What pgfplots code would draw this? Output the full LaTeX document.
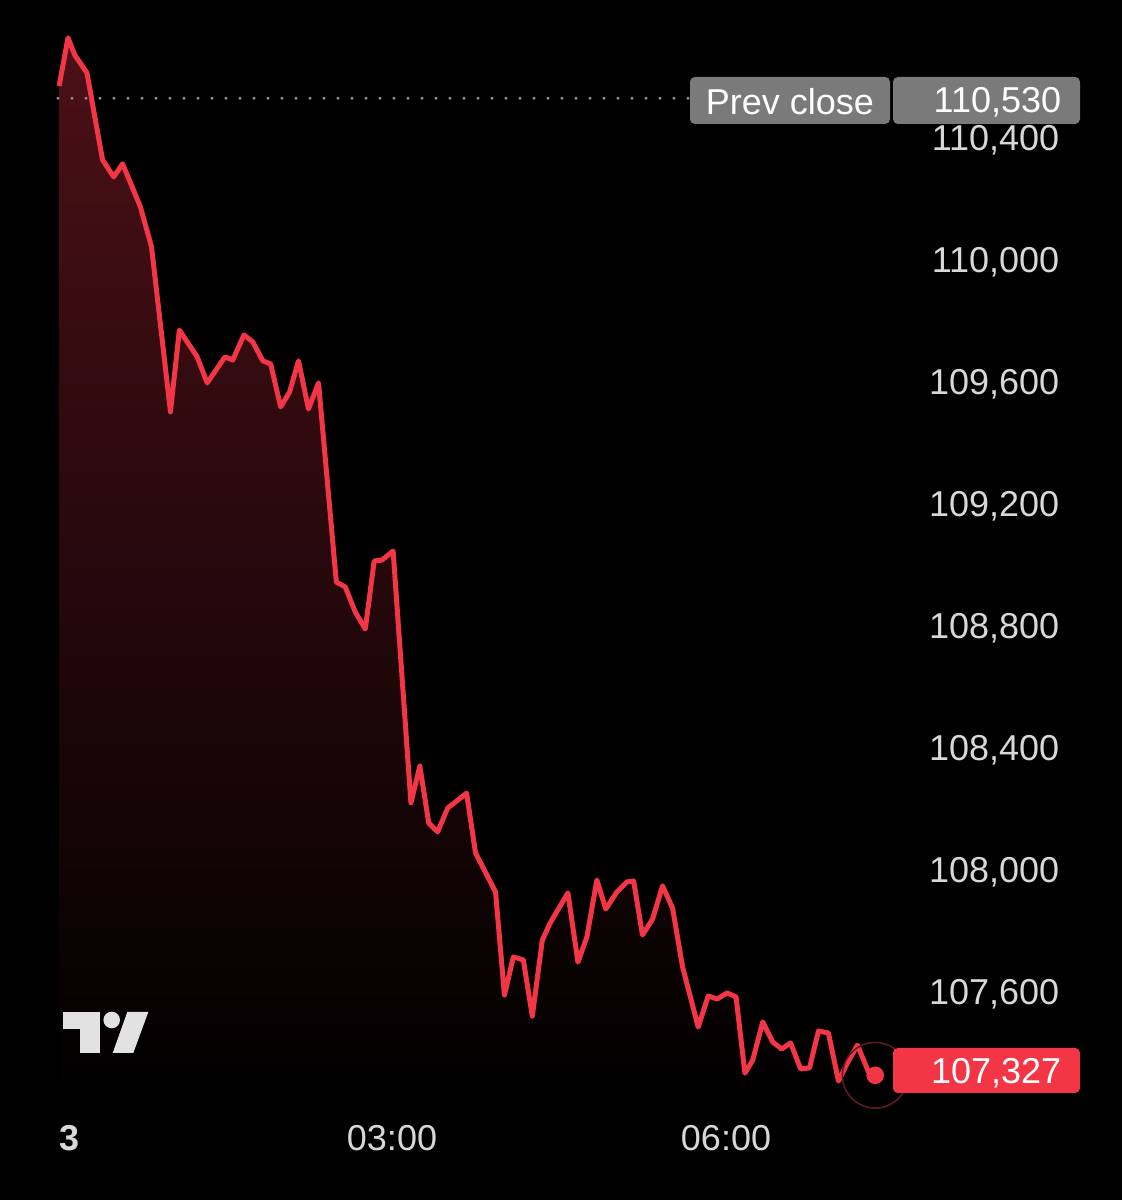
\documentclass[border=0pt]{standalone}
\usepackage{fontspec}
\setmainfont{Liberation Sans}
\usepackage{pgfplots}
\pgfplotsset{compat=1.18}
\usetikzlibrary{backgrounds}

\definecolor{tvred}{RGB}{242,54,69}
\definecolor{tvfill}{RGB}{76,16,23}
\definecolor{ticktxt}{RGB}{216,216,216}
\definecolor{boxgray}{RGB}{122,122,122}
\definecolor{dotgray}{RGB}{150,150,150}
\definecolor{ringred}{RGB}{95,26,33}
\definecolor{logogray}{RGB}{226,226,226}

\begin{document}
\begin{tikzpicture}
\useasboundingbox (0,0) rectangle (280.5pt,300pt);
\begin{axis}[
  at={(0pt,25pt)}, anchor=south west,
  scale only axis, width=280.5pt, height=275pt,
  xmin=-0.521, xmax=9.557, ymin=107246, ymax=110852,
  axis line style={draw=none}, major tick length=0pt,
  xtick={0.1,3,6}, xticklabels={\textbf{3},03:00,06:00},
  xticklabel style={anchor=north, inner sep=0pt, yshift=-6.2pt, text depth=0pt},
  ytick={107600,108000,108400,108800,109200,109600,110000,110400},
  yticklabels={{107,600},{108,000},{108,400},{108,800},{109,200},{109,600},{110,000},{110,400}},
  yticklabel pos=right,
  yticklabel style={anchor=east, inner sep=0pt, xshift=-15.5pt, text depth=0pt},
  ticklabel style={font=\fontsize{9}{11}\selectfont, text=ticktxt},
]
% area under the line
\addplot[draw=none, top color=tvfill, bottom color=black, forget plot] coordinates {
(0.01,107246) (0.01,110570) (0.09,110728) (0.15,110672) (0.26,110613) (0.40,110328)
(0.50,110272) (0.58,110315) (0.74,110174) (0.84,110043) (1.01,109502) (1.09,109770)
(1.25,109682) (1.34,109597) (1.50,109682) (1.57,109672) (1.67,109754) (1.75,109731)
(1.84,109669) (1.91,109659) (2.00,109518) (2.08,109567) (2.16,109669) (2.25,109511)
(2.34,109597) (2.50,108944) (2.58,108928) (2.67,108846) (2.76,108790) (2.84,109013)
(2.91,109016) (3.01,109046) (3.17,108220) (3.25,108341) (3.33,108154) (3.41,108125)
(3.50,108203) (3.67,108252) (3.75,108056) (3.93,107928) (4.01,107590) (4.09,107715)
(4.18,107705) (4.26,107521) (4.35,107770) (4.42,107826) (4.58,107925) (4.67,107698)
(4.75,107780) (4.84,107967) (4.92,107872) (5.02,107928) (5.11,107961) (5.17,107964)
(5.25,107787) (5.34,107839) (5.43,107948) (5.52,107875) (5.61,107682) (5.68,107584)
(5.75,107485) (5.84,107587) (5.92,107577) (6.01,107597) (6.09,107584) (6.17,107334)
(6.24,107377) (6.33,107502) (6.42,107436) (6.50,107413) (6.58,107433) (6.67,107348)
(6.75,107351) (6.83,107472) (6.92,107466) (7.01,107308) (7.09,107367) (7.18,107426)
(7.28,107338) (7.34,107327) (7.34,107246)};
% previous close
\addplot[dotgray, line width=0.8pt, line cap=round, dash pattern=on 0pt off 3.5pt, forget plot]
  coordinates {(0.0,110530) (5.68,110530)};
% price line
\addplot[tvred, line width=1.25pt, line join=round] coordinates {
(0.01,110570) (0.09,110728) (0.15,110672) (0.26,110613) (0.40,110328)
(0.50,110272) (0.58,110315) (0.74,110174) (0.84,110043) (1.01,109502) (1.09,109770)
(1.25,109682) (1.34,109597) (1.50,109682) (1.57,109672) (1.67,109754) (1.75,109731)
(1.84,109669) (1.91,109659) (2.00,109518) (2.08,109567) (2.16,109669) (2.25,109511)
(2.34,109597) (2.50,108944) (2.58,108928) (2.67,108846) (2.76,108790) (2.84,109013)
(2.91,109016) (3.01,109046) (3.17,108220) (3.25,108341) (3.33,108154) (3.41,108125)
(3.50,108203) (3.67,108252) (3.75,108056) (3.93,107928) (4.01,107590) (4.09,107715)
(4.18,107705) (4.26,107521) (4.35,107770) (4.42,107826) (4.58,107925) (4.67,107698)
(4.75,107780) (4.84,107967) (4.92,107872) (5.02,107928) (5.11,107961) (5.17,107964)
(5.25,107787) (5.34,107839) (5.43,107948) (5.52,107875) (5.61,107682) (5.68,107584)
(5.75,107485) (5.84,107587) (5.92,107577) (6.01,107597) (6.09,107584) (6.17,107334)
(6.24,107377) (6.33,107502) (6.42,107436) (6.50,107413) (6.58,107433) (6.67,107348)
(6.75,107351) (6.83,107472) (6.92,107466) (7.01,107308) (7.09,107367) (7.18,107426)
(7.28,107338) (7.34,107327)};
% last point
\addplot[only marks, mark=o, mark size=8.2pt, draw=ringred, mark options={line width=0.4pt}]
  coordinates {(7.34,107327)};
\addplot[only marks, mark=*, mark size=2pt, color=tvred] coordinates {(7.34,107327)};
\end{axis}
\begin{pgfonlayer}{background}
\fill[black] (0,0) rectangle (280.5pt,300pt);
\end{pgfonlayer}
% labels, in pixel units from the top-left corner
\begin{scope}[shift={(0pt,300pt)}, x=0.25pt, y=-0.25pt]
\fill[boxgray, rounded corners=1.2pt] (690,77) rectangle (890,124);
\fill[boxgray, rounded corners=1.2pt] (893,77) rectangle (1080,124);
\node[text=white, inner sep=0pt, text depth=0pt, font=\fontsize{9}{11}\selectfont] at (790,101) {Prev close};
\node[text=white, anchor=east, inner sep=0pt, text depth=0pt, font=\fontsize{9}{11}\selectfont] at (1062,100) {110,530};
\fill[tvred, rounded corners=1.2pt] (893,1048) rectangle (1080,1093);
\node[text=white, anchor=east, inner sep=0pt, text depth=0pt, font=\fontsize{9}{11}\selectfont] at (1062,1071) {107,327};
% logo
\fill[logogray] (63,1012) rectangle (100,1029);
\fill[logogray] (80,1012) rectangle (100,1053);
\fill[logogray] (111.7,1020) circle (8.3);
\fill[logogray] (127.3,1012) -- (148.3,1012) -- (133.3,1053) -- (112.7,1053) -- cycle;
\end{scope}
\end{tikzpicture}
\end{document}
